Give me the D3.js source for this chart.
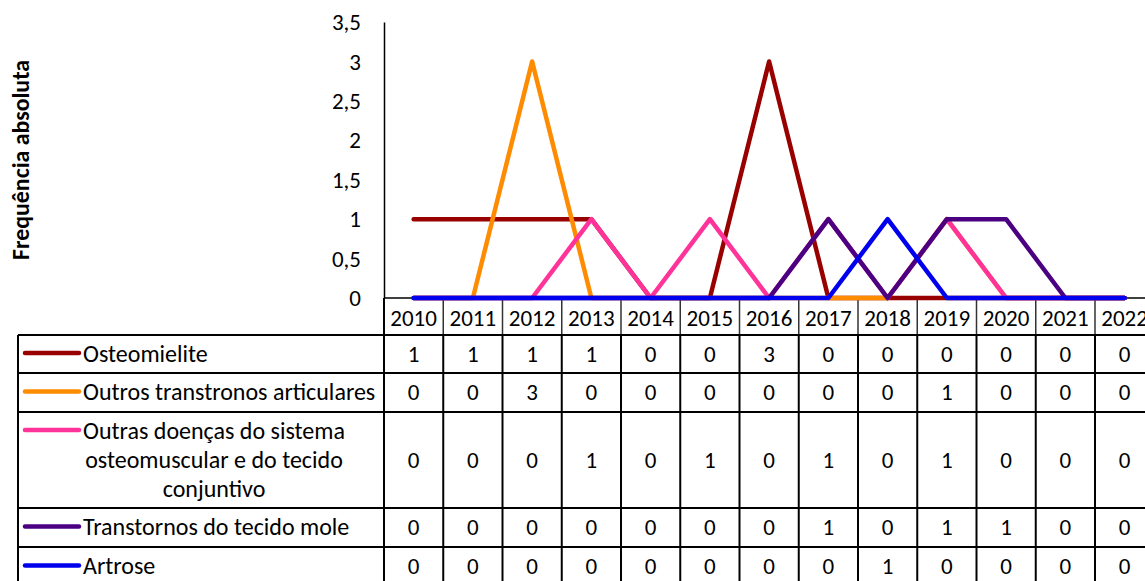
<!DOCTYPE html>
<html>
<head>
<meta charset="utf-8">
<script src="https://cdn.jsdelivr.net/npm/d3@7"></script>
<style>
  html, body { margin: 0; padding: 0; background: #fff; }
  svg { display: block; }
  text { font-family: Calibri, Carlito, "Open Sans", sans-serif; fill: #000; }
</style>
</head>
<body>
<svg id="chart" width="1145" height="581"></svg>
<script>
// ---- data ----
const years = ["2010","2011","2012","2013","2014","2015","2016","2017","2018","2019","2020","2021","2022"];
const seriesNames = [
  "Osteomielite",
  "Outros transtronos articulares",
  "Outras doenças do sistema osteomuscular e do tecido conjuntivo",
  "Transtornos do tecido mole",
  "Artrose"
];
const osteomielite      = [1,1,1,1,0,0,3,0,0,0,0,0,0];
const outrosTranstornos = [0,0,3,0,0,0,0,0,0,1,0,0,0];
const outrasDoencas     = [0,0,0,1,0,1,0,1,0,1,0,0,0];
const transtornosMole   = [0,0,0,0,0,0,0,1,0,1,1,0,0];
const artrose           = [0,0,0,0,0,0,0,0,1,0,0,0,0];
const seriesColors = ["#990000", "#FF8C00", "#FF3399", "#4B0082", "#0000EE"];
const yTicks = [0, 0.5, 1, 1.5, 2, 2.5, 3, 3.5];
const yTitle = "Frequência absoluta";
const legendLines = [["Osteomielite"], ["Outros transtronos articulares"],
  ["Outras doenças do sistema", "osteomuscular e do tecido", "conjuntivo"],
  ["Transtornos do tecido mole"], ["Artrose"]];

const allSeries = [osteomielite, outrosTranstornos, outrasDoencas, transtornosMole, artrose];

// ---- layout ----
const svg = d3.select("#chart");
const plotLeft = 384, colW = 59.25;
const plotTop = 22, plotBottom = 298;
const tableLeft = 18;
const rowEdges = [298, 335, 373, 412, 508, 547, 586];
const FS = 23, FSL = 24;

const x = d3.scaleBand().domain(years).range([plotLeft, plotLeft + colW * years.length]).padding(0);
const y = d3.scaleLinear().domain([0, 3.5]).range([plotBottom, plotTop]);

// y axis
const yAxis = d3.axisLeft(y).tickValues(yTicks).tickSize(0).tickPadding(23)
  .tickFormat(d => String(d).replace(".", ","));
const gy = svg.append("g").attr("transform", `translate(${plotLeft},0)`).call(yAxis);
gy.select(".domain").attr("stroke", "#000").attr("stroke-width", 1.5);
gy.selectAll("text").style("font-size", FS + "px").style("font-family", null).attr("dy", "0.33em");

// y title
const title = svg.append("text")
  .attr("transform", `translate(29,160) rotate(-90)`)
  .attr("text-anchor", "middle")
  .style("font-weight", "bold").style("font-size", "18px")
  .text(yTitle);
{
  const L = title.node().getComputedTextLength();
  title.style("font-size", (18 * 200 / L) + "px");
}

// horizontal axis line
svg.append("line").attr("x1", plotLeft).attr("x2", 1145).attr("y1", plotBottom).attr("y2", plotBottom)
  .attr("stroke", "#000").attr("stroke-width", 1.5);

// ---- table grid ----
const grid = svg.append("g");
const colEdges = years.map(d => x(d)).concat([x(years[years.length - 1]) + x.bandwidth()]);
colEdges.forEach(cx => {
  grid.append("line").attr("x1", cx).attr("x2", cx).attr("y1", rowEdges[0]).attr("y2", rowEdges[1])
    .attr("stroke", "#333").attr("stroke-width", 1.5);
});
colEdges.forEach(cx => {
  grid.append("line").attr("x1", cx).attr("x2", cx).attr("y1", rowEdges[1]).attr("y2", rowEdges[6])
    .attr("stroke", "#000").attr("stroke-width", 2);
});
grid.append("line").attr("x1", plotLeft).attr("x2", plotLeft).attr("y1", rowEdges[0]).attr("y2", rowEdges[6])
  .attr("stroke", "#000").attr("stroke-width", 2);
grid.append("line").attr("x1", tableLeft).attr("x2", tableLeft).attr("y1", rowEdges[1]).attr("y2", rowEdges[6])
  .attr("stroke", "#000").attr("stroke-width", 2);
rowEdges.slice(1, 6).forEach(ry => {
  grid.append("line").attr("x1", tableLeft).attr("x2", 1145).attr("y1", ry).attr("y2", ry)
    .attr("stroke", "#000").attr("stroke-width", 2);
});

// header year labels
svg.append("g").selectAll("text").data(years).join("text")
  .attr("x", d => x(d) + x.bandwidth() / 2)
  .attr("y", (rowEdges[0] + rowEdges[1]) / 2 + 2)
  .attr("dy", "0.33em").attr("text-anchor", "middle")
  .style("font-size", FS + "px").text(d => d);

// value cells
allSeries.forEach((vals, i) => {
  const cy = (rowEdges[i + 1] + rowEdges[i + 2]) / 2;
  svg.append("g").selectAll("text").data(vals).join("text")
    .attr("x", (d, j) => x(years[j]) + x.bandwidth() / 2)
    .attr("y", cy).attr("dy", "0.33em").attr("text-anchor", "middle")
    .style("font-size", FS + "px").text(d => d);
});

// legend keys and labels
allSeries.forEach((vals, i) => {
  const top = rowEdges[i + 1], bot = rowEdges[i + 2];
  const lines = legendLines[i];
  const lh = 29;
  const cy = (top + bot) / 2;
  const firstY = cy - (lines.length - 1) * lh / 2;
  svg.append("line").attr("x1", 25).attr("x2", 79).attr("y1", firstY - 1).attr("y2", firstY - 1)
    .attr("stroke", seriesColors[i]).attr("stroke-width", 4.5).attr("stroke-linecap", "round");
  if (lines.length === 1) {
    svg.append("text").attr("x", 83).attr("y", cy).attr("dy", "0.33em")
      .style("font-size", FSL + "px").text(lines[0]);
  } else {
    lines.forEach((t, k) => {
      svg.append("text").attr("x", 214).attr("y", firstY + k * lh).attr("dy", "0.33em")
        .attr("text-anchor", "middle").style("font-size", FSL + "px").text(t);
    });
  }
});

// ---- series lines ----
const line = d3.line().x((d, j) => x(years[j]) + x.bandwidth() / 2).y(d => y(d));
allSeries.forEach((vals, i) => {
  svg.append("path").datum(vals).attr("d", line)
    .attr("fill", "none").attr("stroke", seriesColors[i]).attr("stroke-width", 4.5)
    .attr("stroke-linejoin", "round").attr("stroke-linecap", "round");
});
</script>
</body>
</html>
